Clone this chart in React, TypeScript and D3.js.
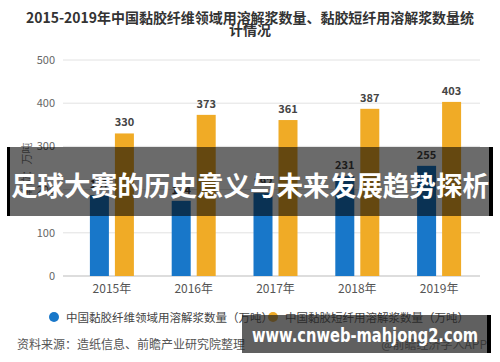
import React from "react";
import * as d3 from "d3";

const years = ["2015年", "2016年", "2017年", "2018年", "2019年"];
const fiberPulp = [187, 174, 192, 231, 255];
const staplePulp = [330, 373, 361, 387, 403];
const yTicks = [0, 100, 200, 300, 400, 500];
const seriesNames = ["中国黏胶纤维领域用溶解浆数量（万吨）", "中国黏胶短纤用溶解浆数量（万吨）"];
const colors = ["#1877c9", "#f0ab26"];

const titleLines = [
  "2015-2019年中国黏胶纤维领域用溶解浆数量、黏胶短纤用溶解浆数量统",
  "计情况",
];
const bannerText = "足球大赛的历史意义与未来发展趋势探析";
const sourceText = "资料来源：造纸信息、前瞻产业研究院整理";
const brandText = "@前瞻经济学人APP";
const siteText = "www.cnweb-mahjong2.com";

const W = 500, H = 362;
const font = "'Noto Sans CJK SC', 'Noto Sans', sans-serif";

export default function App() {
  const margin = { top: 60, left: 63, right: 20, bottom: 86 };
  const plotBottom = H - margin.bottom;

  const x = d3.scaleBand().domain(years).range([71, 480]).paddingInner(0).paddingOuter(0);
  const y = d3.scaleLinear().domain([0, 500]).range([plotBottom, margin.top]);
  const barW = 19, gap = 6;

  const series = [fiberPulp, staplePulp];

  return (
    <svg width={W} height={H} style={{ position: "fixed", left: 0, top: 0, background: "#fff" }} fontFamily={font}>
      <rect width={W} height={H} fill="#fff" />
      {/* title */}
      {titleLines.map((t, i) => (
        <text key={i} x={250} y={23 + i * 12} textAnchor="middle" fontSize={14} fontWeight="bold" fill="#333"
          textLength={i === 0 ? 448 : undefined} lengthAdjust="spacingAndGlyphs">{t}</text>
      ))}

      {/* grid + y ticks */}
      {yTicks.map(t => (
        <g key={t}>
          <line x1={63} x2={480} y1={y(t)} y2={y(t)} stroke={t === 0 ? "#bbb" : "#e2e2e2"} strokeWidth={1} />
          <text x={55} y={y(t) + 4} textAnchor="end" fontSize={11} fill="#666">{t}</text>
        </g>
      ))}
      <text transform={`translate(31,170) rotate(-90)`} textAnchor="middle" fontSize={11} fill="#777">单位：万吨</text>

      {/* bars */}
      {series.map((vals, si) => (
        <g key={si}>
          {vals.map((v, i) => {
            const cx = (x(years[i]) as number) + x.bandwidth() / 2;
            const bx = si === 0 ? cx - gap / 2 - barW : cx + gap / 2;
            return (
              <g key={i}>
                <rect x={bx} y={y(v)} width={barW} height={plotBottom - y(v)} fill={colors[si]} />
                <text x={bx + barW / 2} y={y(v) - 7} textAnchor="middle" fontSize={11} fontWeight="bold" fill="#444">{v}</text>
              </g>
            );
          })}
        </g>
      ))}

      {/* x labels */}
      {years.map(yr => (
        <text key={yr} x={(x(yr) as number) + x.bandwidth() / 2} y={293} textAnchor="middle" fontSize={12} fill="#555">{yr}</text>
      ))}

      {/* legend */}
      {seriesNames.map((n, i) => (
        <g key={n} transform={`translate(${i === 0 ? 54 : 273},317)`}>
          <circle r={5} fill={colors[i]} />
          <text x={12} y={4.5} fontSize={11.5} fill="#444">{n}</text>
        </g>
      ))}

      {/* source */}
      <text x={17} y={349} fontSize={12} fill="#555">{sourceText}</text>
      <text x={487} y={349} textAnchor="end" fontSize={12} fill="#777">{brandText}</text>

      {/* banner overlay */}
      <rect x={7} y={147} width={486} height={69} fill="#000" fillOpacity={0.58} />
      <rect x={7} y={147} width={3} height={69} fill="#000" />
      <rect x={489} y={147} width={4} height={69} fill="#000" />
      <text x={250} y={196} textAnchor="middle" fontSize={27} fontWeight="bold" fill="#fff"
        textLength={478} lengthAdjust="spacingAndGlyphs">{bannerText}</text>

      {/* site box */}
      <rect x={242} y={315} width={248} height={38} fill="#222" fillOpacity={0.72} />
      <rect x={487} y={315} width={4} height={38} fill="#000" />
      <text x={365} y={342} textAnchor="middle" fontSize={20} fontWeight="bold" fill="#fff"
        fontFamily="'DejaVu Sans', sans-serif" textLength={226} lengthAdjust="spacingAndGlyphs">{siteText}</text>
    </svg>
  );
}
